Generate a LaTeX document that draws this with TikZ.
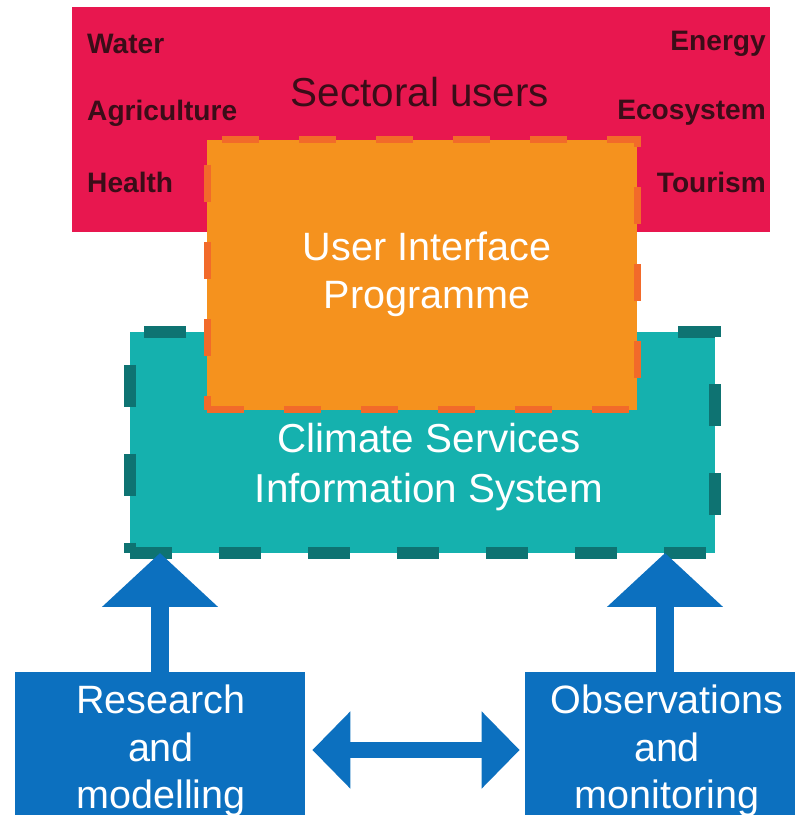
\documentclass[tikz,border=0pt]{standalone}
\usepackage{fontspec}
\setmainfont{Liberation Sans}
\usetikzlibrary{arrows.meta, positioning}

\definecolor{sectorred}{HTML}{E8174F}
\definecolor{uiporange}{HTML}{F5921E}
\definecolor{uipdash}{HTML}{F26A2A}
\definecolor{csisteal}{HTML}{15B1AE}
\definecolor{csisdash}{HTML}{0E7372}
\definecolor{baseblue}{HTML}{0C70BF}
\definecolor{sectortext}{HTML}{3A0D18}

\begin{document}
\begin{tikzpicture}[
    sectors/.style={rectangle, fill=sectorred, minimum width=13.96cm, minimum height=4.5cm},
    uip/.style={rectangle, fill=uiporange, draw=uipdash, line width=0.14cm, dash pattern=on 0.74cm off 0.8cm, minimum width=8.6cm, minimum height=5.4cm},
    csis/.style={rectangle, fill=csisteal, draw=csisdash, line width=0.24cm, dash pattern=on 0.84cm off 0.94cm, minimum width=11.7cm, minimum height=4.42cm},
    base/.style={rectangle, fill=baseblue, minimum height=2.86cm},
    sector/.style={font=\fontsize{16}{19}\selectfont\bfseries, text=sectortext},
    whitetext/.style={text=white, align=center, font=\fontsize{23}{28}\selectfont},
    basetext/.style={text=white, align=center, font=\fontsize{22.5}{27}\selectfont},
    uparrow/.style={-{Triangle[length=1.08cm, width=2.26cm]}, line width=0.36cm, draw=baseblue},
    linkarrow/.style={{Triangle[length=0.76cm, width=1.5cm]}-{Triangle[length=0.76cm, width=1.5cm]}, line width=0.32cm, draw=baseblue, shorten <=0.14cm, shorten >=0.1cm}
]
\useasboundingbox (0,0) rectangle (15.96,16.42);

% Sectoral users
\node[sectors] (users) at (8.42, 14.03) {};
\node[font=\fontsize{23}{27}\selectfont, text=sectortext] (userstitle) at (8.4, 14.58) {Sectoral users};
\node[sector, anchor=west] (water) at (1.62, 15.54) {Water};
\node[sector, anchor=west] (agri) at (1.62, 14.16) {Agriculture};
\node[sector, anchor=west] (health) at (1.62, 12.78) {Health};
\node[sector, anchor=east] (energy) at (15.44, 15.54) {Energy};
\node[sector, anchor=east] (eco) at (15.44, 14.16) {Ecosystem};
\node[sector, anchor=east] (tourism) at (15.44, 12.78) {Tourism};

% Climate Services Information System
\node[csis] (csisbox) at (8.45, 7.57) {};
\node[whitetext] (csistext) at (8.58, 7.08) {Climate Services\\Information System};

% User Interface Programme
\node[uip] (uipbox) at (8.44, 10.92) {};
\node[whitetext, font=\fontsize{22.5}{27}\selectfont] (uiptext) at (8.54, 10.93) {User Interface\\Programme};

% Research and observations
\node[base, minimum width=5.8cm] (research) at (3.2, 1.55) {};
\node[base, minimum width=5.4cm] (observe) at (13.2, 1.55) {};
\node[basetext] (restext) at (3.22, 1.4) {Research\\and\\modelling};
\node[basetext] (obstext) at (13.34, 1.4) {Observations\\and\\monitoring};

% Connections
\draw[uparrow] (research.north) -- ([yshift=0.12cm]research.north |- csisbox.south);
\draw[uparrow] ([xshift=0.1cm]observe.north) -- ([xshift=0.1cm, yshift=0.12cm]observe.north |- csisbox.south);
\draw[linkarrow] ([yshift=-0.13cm]research.east) -- ([yshift=-0.13cm]observe.west);

\end{tikzpicture}
\end{document}
